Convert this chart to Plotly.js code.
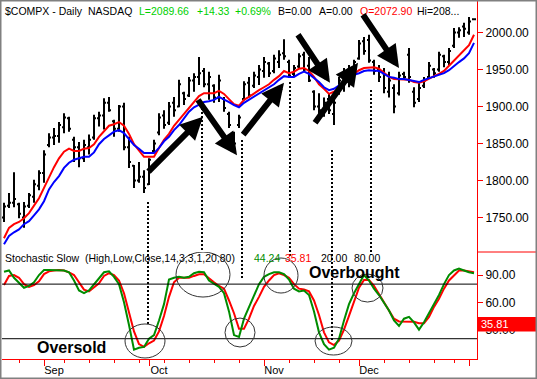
<!DOCTYPE html>
<html><head><meta charset="utf-8">
<script src="https://cdn.plot.ly/plotly-3.0.1.min.js"></script>
<style>html,body{margin:0;padding:0;background:#fff;overflow:hidden}#chart{width:537px;height:379px}</style>
</head><body><div id="chart"></div>
<script>
const priceHigh = [1770,1783,1811,1770,1771,1783,1801,1814,1841,1864,
 1871,1879,1891,1886,1859,1852,1855,1862,1889,1893,
 1911,1913,1882,1902,1905,1859,1821,1825,1814,1830,
 1855,1891,1895,1906,1913,1936,1920,1940,1945,1967,
 1952,1947,1930,1943,1913,1893,1866,1889,1934,1940,
 1947,1956,1967,1960,1970,1976,1991,1963,1956,1972,
 1974,1967,1922,1918,1912,1918,1912,1940,1952,1956,
 1963,1990,1994,1997,1963,1956,1952,1947,1930,1947,
 1947,1979,1926,1932,1940,1960,1952,1974,1970,1979,
 2006,2007,2013,2021,2019];
const priceLow = [1744,1763,1764,1749,1736,1763,1770,1787,1797,1845,
 1848,1851,1864,1866,1825,1818,1825,1835,1855,1873,
 1869,1893,1859,1866,1841,1817,1790,1797,1783,1794,
 1837,1861,1870,1875,1886,1899,1902,1913,1920,1929,
 1926,1909,1905,1906,1893,1871,1844,1871,1908,1912,
 1925,1929,1939,1940,1945,1952,1963,1939,1940,1952,
 1947,1933,1895,1882,1886,1890,1875,1916,1920,1926,
 1939,1963,1970,1959,1943,1933,1918,1912,1891,1915,
 1936,1932,1899,1906,1925,1939,1939,1947,1953,1956,
 1979,1993,1994,1997,2017];
const priceOpen = [1750,1766,1770,1768,1750,1766,1778,1793,1810,1848,
 1858,1860,1872,1884,1855,1845,1830,1845,1858,1884,
 1888,1905,1880,1870,1900,1845,1820,1800,1805,1795,
 1840,1865,1888,1878,1905,1900,1918,1915,1935,1940,
 1948,1930,1928,1912,1910,1890,1862,1875,1910,1932,
 1928,1940,1948,1958,1948,1960,1972,1960,1944,1954,
 1970,1955,1920,1900,1890,1910,1890,1918,1935,1950,
 1940,1965,1988,1990,1960,1950,1945,1920,1925,1918,
 1944,1970,1920,1910,1928,1940,1950,1950,1968,1960,
 1982,2000,2008,2000,2018];
const priceClose = [1765,1770,1775,1755,1765,1780,1795,1810,1835,1858,
 1860,1875,1885,1870,1845,1830,1848,1855,1884,1888,
 1905,1895,1870,1900,1845,1825,1800,1805,1790,1828,
 1850,1885,1875,1900,1895,1930,1910,1935,1940,1945,
 1930,1940,1912,1935,1898,1875,1850,1885,1930,1915,
 1942,1950,1960,1945,1965,1970,1968,1942,1952,1968,
 1950,1935,1900,1895,1905,1895,1905,1935,1948,1930,
 1960,1985,1975,1962,1948,1940,1925,1935,1900,1942,
 1940,1940,1905,1925,1935,1955,1945,1970,1960,1975,
 2000,2003,2005,2015,2018];
const maFast = [1722,1736,1741,1744,1749,1756,1766,1776,1790,1805,
 1818,1830,1839,1843,1840,1840,1843,1844,1849,1859,
 1867,1874,1876,1879,1874,1863,1849,1840,1832,1832,
 1832,1844,1855,1863,1874,1882,1890,1898,1906,1914,
 1918,1918,1918,1921,1917,1910,1903,1901,1909,1913,
 1918,1922,1926,1930,1936,1941,1948,1945,1947,1951,
 1952,1948,1940,1930,1924,1917,1920,1925,1932,1939,
 1944,1949,1952,1953,1953,1951,1945,1940,1937,1937,
 1937,1936,1933,1932,1934,1938,1941,1944,1948,1955,
 1962,1968,1975,1983,1997];
const maSlow = [1714,1725,1730,1734,1741,1745,1753,1761,1772,1788,
 1798,1806,1817,1824,1828,1830,1832,1832,1838,1849,
 1856,1861,1866,1868,1864,1856,1848,1843,1837,1837,
 1837,1844,1853,1859,1868,1875,1884,1893,1899,1903,
 1906,1907,1909,1913,1910,1906,1902,1899,1905,1909,
 1913,1917,1922,1925,1930,1936,1941,1940,1940,1944,
 1947,1944,1939,1933,1926,1922,1924,1928,1933,1939,
 1943,1945,1948,1949,1949,1948,1944,1940,1939,1937,
 1937,1936,1934,1933,1936,1938,1940,1943,1945,1949,
 1955,1960,1965,1972,1986];
const stochK = [93.6,95,87,82,76,78,82,90,95.5,95.5,
 95.5,95.5,95,93,84,73,70,73,80,87,
 93,94,88,80,60,35,8,10,11,20,
 24,40,58,85,87,88,87,88,92,93.6,
 93,84,80,77,70,50,24,22,42,55,
 68,80,88,91,93,93,91,85,75,72,
 73,68,50,27,14,8,10,20,40,58,
 70,80,90,84,75,68,60,51,40,34,
 42,44,38,30,38,48,57,68,80,90,
 95,97,95,93,92];
const stochD = [79,89,90,87,80,77,79,83,91,94,
 95,95.5,95,93,90,82,74,72,76,81,
 89,92,90,84,70,48,28,14,11,15,
 18,28,45,66,82,87,87,87,89,90.8,
 90.8,86,82,78,75,62,48,31,31,42,
 56,66,77,84,90,92,90,87,80,75,
 74,72,62,46,27,16,13,18,30,45,
 61,76,84.5,84.5,78,69,61,52,42,39,
 38.7,38.7,38.7,37,37,44,55,64,75,84,
 90,95,95,94,93];
const monthTickIdx = [8, 29, 52, 71, 93];
const monthTickText = ['Sep', 'Oct', 'Nov', 'Dec', ''];
const weekTickIdx = [3, 12, 17, 22, 27, 32, 37, 42, 47, 57, 62, 67, 76, 81, 86, 90];
const priceTicks = [1750, 1800, 1850, 1900, 1950, 2000];
const stochTicks = [30, 60, 90];
const stochLevels = [20, 80];
const lastStochD = 35.81;

const dayIdx = priceHigh.map((_, i) => i);

// page geometry (pixels) -> paper coordinates
const W = 537, H = 379, ML = 2, MR = 60, MT = 0, MB = 20;
const PW = W - ML - MR, PH = H - MT - MB;
const xp = px => (px - ML) / PW;
const yp = py => (H - MB - py) / PH;
const SPLIT = yp(252);
const FONT = 'Liberation Sans, Arial, sans-serif';

const traces = [
  {type:'ohlc', x:dayIdx, open:priceOpen, high:priceHigh, low:priceLow, close:priceClose,
   xaxis:'x', yaxis:'y', tickwidth:0.4,
   increasing:{line:{color:'#000', width:2}}, decreasing:{line:{color:'#000', width:2}}, hoverinfo:'skip'},
  {type:'scatter', mode:'lines', x:dayIdx, y:maFast, xaxis:'x', yaxis:'y', line:{color:'#ff0000', width:2}},
  {type:'scatter', mode:'lines', x:dayIdx, y:maSlow, xaxis:'x', yaxis:'y', line:{color:'#0000ff', width:2}},
  {type:'scatter', mode:'lines', x:dayIdx, y:stochD, xaxis:'x', yaxis:'y2', line:{color:'#ff0000', width:2}},
  {type:'scatter', mode:'lines', x:dayIdx, y:stochK, xaxis:'x', yaxis:'y2', line:{color:'#008c00', width:2}}
];

const shapes = [];
stochLevels.forEach(v => shapes.push({type:'line', xref:'paper', yref:'y2', x0:0, x1:1, y0:v, y1:v, line:{color:'#000', width:1}}));
// dotted guide lines (x in trading-day index, y in page pixels)
const guides = [[28.8,202,325],[39.6,108,252],[47.6,140,280],[57.2,82,258],[65.6,150,340],[73.4,90,255]];
guides.forEach(g => shapes.push({type:'line', xref:'x', yref:'paper', x0:g[0], x1:g[0], y0:yp(g[1]), y1:yp(g[2]), line:{color:'#000', width:2, dash:'2px,2px'}}));
// circles on the stochastic panel
const rings = [[24.2,32.2,-1.2,36.2],[34.4,45.2,65.8,115.3],[44.2,50.2,10.9,42.7],[52,58.8,70.2,108.7],[62.2,69.6,2.1,32.9],[69.6,75.8,60.3,91.1]];
rings.forEach(r => shapes.push({type:'circle', xref:'x', yref:'y2', x0:r[0], x1:r[1], y0:r[2], y1:r[3], line:{color:'#333', width:1}}));
// right-margin separator and value box
shapes.push({type:'line', xref:'paper', yref:'paper', x0:1, x1:xp(W), y0:SPLIT, y1:SPLIT, line:{color:'#ff0000', width:1}});
shapes.push({type:'rect', xref:'paper', yref:'y2', x0:1, x1:xp(W), y0:lastStochD-8, y1:lastStochD+8, fillcolor:'#ff0000', line:{width:0}});
// outer frame
shapes.push({type:'rect', xref:'paper', yref:'paper', x0:xp(0), x1:xp(W), y0:yp(H), y1:yp(0), line:{color:'#808080', width:3}});

const ann = [];
function txt(px, py, t, color, size, bold) {
  ann.push({xref:'paper', yref:'paper', x:xp(px), y:yp(py), xanchor:'left', yanchor:'middle', showarrow:false,
    text: bold ? '<b>' + t + '</b>' : t, font:{family:FONT, size:size || 10.5, color:color || '#000'}});
}
txt(3, 11, '$COMPX - Daily');
txt(86, 11, 'NASDAQ');
txt(137, 11, 'L=2089.66', '#00d000');
txt(195, 11, '+14.33', '#00d000');
txt(233, 11, '+0.69%', '#00d000');
txt(276, 11, 'B=0.00');
txt(317, 11, 'A=0.00');
txt(358, 11, 'O=2072.90', '#ff0000');
txt(415, 11, 'Hi=208...');
txt(3, 258, 'Stochastic Slow  (High,Low,Close,14,3,3,1,20,80)');
txt(252, 258, '44.24', '#008c00');
txt(283, 258, '35.81', '#ff0000');
txt(319, 258, '20.00');
txt(352, 258, '80.00');
txt(307, 272, 'Overbought', '#000', 16, true);
txt(35, 347, 'Oversold', '#000', 16, true);
ann.push({xref:'paper', yref:'y2', x:xp(479), y:lastStochD, xanchor:'left', yanchor:'middle', showarrow:false,
  text:lastStochD.toFixed(2), font:{family:FONT, size:11, color:'#fff'}});
// arrows: tail -> tip in (day index, price)
const arrows = [[28.6,1810,39.8,1886],[38.6,1911,46.6,1834],[47.6,1860,56,1932],[58.6,1999,65.2,1932],[62,1876,70.8,1959],[71.6,2026,79,1952]];
arrows.forEach(a => ann.push({xref:'x', yref:'y', axref:'x', ayref:'y', x:a[2], y:a[3], ax:a[0], ay:a[1], text:'',
  showarrow:true, arrowhead:2, arrowsize:0.75, arrowwidth:6, arrowcolor:'#000', standoff:0}));

const axisCommon = {showgrid:false, zeroline:false, showline:true, linecolor:'#ff0000', linewidth:1,
  ticks:'outside', tickcolor:'#ff0000', tickwidth:1, tickfont:{family:FONT, size:12, color:'#000'}};

const layout = {
  width:W, height:H, margin:{l:ML, r:MR, t:MT, b:MB}, paper_bgcolor:'#fff', plot_bgcolor:'#fff',
  showlegend:false, font:{family:FONT, size:11, color:'#000'},
  xaxis: Object.assign({}, axisCommon, {anchor:'y2', range:[-0.4, 94.6], tickmode:'array', tickvals:monthTickIdx,
    ticktext:monthTickText, ticklen:6, ticklabelshift:10, ticklabelstandoff:-5, tickfont:{family:FONT, size:11, color:'#000'},
    rangeslider:{visible:false}, fixedrange:true,
    minor:{tickmode:'array', tickvals:weekTickIdx, ticks:'outside', ticklen:3, tickcolor:'#ff0000', showgrid:false}}),
  yaxis: Object.assign({}, axisCommon, {domain:[SPLIT, 1], side:'right', anchor:'x', range:[1703.4, 2043.9],
    tickmode:'array', tickvals:priceTicks, tickformat:'.2f', ticklen:5}),
  yaxis2: Object.assign({}, axisCommon, {domain:[0, SPLIT], side:'right', anchor:'x', range:[-2.3, 115.3],
    tickmode:'array', tickvals:stochTicks, tickformat:'.2f', ticklen:5}),
  shapes: shapes, annotations: ann
};
Plotly.newPlot('chart', traces, layout, {staticPlot:true, displayModeBar:false});
</script></body></html>
